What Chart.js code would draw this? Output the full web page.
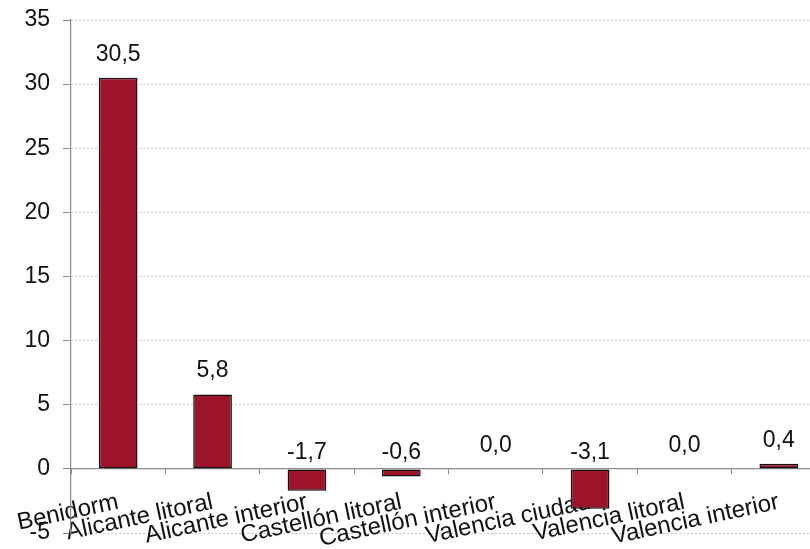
<!DOCTYPE html>
<html>
<head>
<meta charset="utf-8">
<script src="https://cdn.jsdelivr.net/npm/chart.js@4"></script>
<style>
html, body { margin: 0; padding: 0; overflow: hidden; background: #fff; width: 810px; height: 549px; }
#wrap { width: 826px; height: 549px; }
</style>
</head>
<body>
<div id="wrap"><canvas id="c" width="826" height="549"></canvas></div>
<script>
const categories = ['Benidorm', 'Alicante litoral', 'Alicante interior', 'Castellón litoral', 'Castellón interior', 'Valencia ciudad', 'Valencia litoral', 'Valencia interior'];
const values = [30.5, 5.8, -1.7, -0.6, 0.0, -3.1, 0.0, 0.4];
const yMin = -5, yMax = 35, yStep = 5;

const FONT = 'Liberation Sans, Arial, sans-serif';

const valueLabels = {
  id: 'valueLabels',
  afterDatasetsDraw(chart) {
    const ctx = chart.ctx;
    const meta = chart.getDatasetMeta(0);
    const zero = chart.scales.y.getPixelForValue(0);
    ctx.save();
    ctx.font = '23px ' + FONT;
    ctx.fillStyle = '#111';
    ctx.textAlign = 'center';
    ctx.textBaseline = 'middle';
    meta.data.forEach((el, i) => {
      const v = values[i];
      const txt = v.toFixed(1).replace('.', ',');
      let y;
      if (v >= 0) y = el.y - 23.5;
      else y = zero - 16.5;
      ctx.fillText(txt, el.x, y);
    });
    ctx.restore();
  }
};

new Chart(document.getElementById('c'), {
  type: 'bar',
  data: {
    labels: categories,
    datasets: [{
      data: values,
      backgroundColor: '#9d1329',
      borderColor: '#111',
      borderWidth: 1.5,
      borderSkipped: false,
      categoryPercentage: 1,
      barPercentage: 0.41
    }]
  },
  options: {
    responsive: false,
    animation: false,
    events: [],
    layout: { autoPadding: false, padding: { left: 24, right: 0, top: 20, bottom: 16 } },
    plugins: { legend: { display: false }, tooltip: { enabled: false } },
    scales: {
      x: {
        position: { y: 0 },
        z: 1,
        afterFit(scale) { scale.paddingLeft = 0; scale.paddingRight = 0; scale.paddingTop = 0; scale.paddingBottom = 0; scale.height = 0; },
        grid: { display: true, drawOnChartArea: false, drawTicks: true, offset: true, tickLength: 5, tickColor: '#888', tickWidth: 1 },
        border: { display: true, color: '#8c8c8c', width: 1.2 },
        ticks: {
          color: '#111',
          font: { family: FONT, size: 24 },
          minRotation: 12,
          maxRotation: 12,
          autoSkip: false,
          padding: 14
        }
      },
      y: {
        min: yMin,
        max: yMax,
        afterFit(scale) { scale.paddingTop = 0; scale.paddingBottom = 0; scale.width = 47; },
        ticks: {
          stepSize: yStep,
          color: '#111',
          font: { family: FONT, size: 23 },
          padding: 13
        },
        grid: { color: '#c4c4c4', lineWidth: 1, tickLength: 8, tickColor: '#888', tickBorderDash: [], tickWidth: 1 },
        border: { display: true, color: '#8c8c8c', width: 1.2, dash: [2, 2] }
      }
    }
  },
  plugins: [valueLabels]
});
</script>
</body>
</html>
